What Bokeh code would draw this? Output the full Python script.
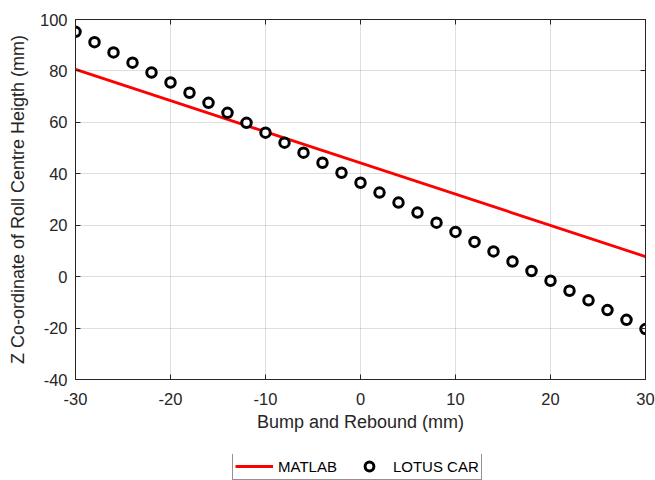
from bokeh.plotting import figure
from bokeh.layouts import column
from bokeh.models import LinearAxis, Legend, LegendItem, Range1d, FixedTicker
from bokeh.embed import file_html
from bokeh.resources import INLINE

# Data
lotus_x = [-30, -28, -26, -24, -22, -20, -18, -16, -14, -12, -10, -8, -6, -4, -2, 0,
           2, 4, 6, 8, 10, 12, 14, 16, 18, 20, 22, 24, 26, 28, 30]
lotus_y = [95.2, 91.2, 87.2, 83.2, 79.4, 75.5, 71.5, 67.6, 63.7, 59.8, 56.0, 52.1,
           48.2, 44.3, 40.4, 36.5, 32.7, 28.8, 24.9, 21.0, 17.4, 13.5, 9.8, 5.9,
           2.2, -1.6, -5.5, -9.2, -13.0, -16.8, -20.4]
matlab_x = [-30, 30]
matlab_y = [80.6, 7.8]
x_ticks = [-30, -20, -10, 0, 10, 20, 30]
y_ticks = [-40, -20, 0, 20, 40, 60, 80, 100]
series_names = ["MATLAB", "LOTUS CAR"]

FONT = "Liberation Sans"
AX = "#262626"
RED = "#ff0000"
NAN = float("nan")

p = figure(width=655, height=454, output_backend="svg", toolbar_location=None,
           x_range=Range1d(-30, 30), y_range=Range1d(-40, 100),
           min_border_left=75, min_border_right=10, min_border_top=19, min_border_bottom=75)

p.outline_line_color = AX
p.outline_line_width = 1

ln = p.line(matlab_x, matlab_y, line_color=RED, line_width=2.8)
sc = p.scatter(lotus_x, lotus_y, size=9.5, line_color="black", line_width=3,
               fill_color="white", marker="circle")

for ax in (p.xaxis[0], p.yaxis[0]):
    ax.major_tick_in = 5
    ax.major_tick_out = 0
    ax.minor_tick_in = 0
    ax.minor_tick_out = 0
    ax.axis_line_color = AX
    ax.major_tick_line_color = AX
    ax.major_label_text_font = FONT
    ax.major_label_text_font_size = "16.5px"
    ax.major_label_text_color = AX
    ax.axis_label_text_font = FONT
    ax.axis_label_text_font_size = "18px"
    ax.axis_label_text_font_style = "normal"
    ax.axis_label_text_color = AX

p.xaxis.ticker = FixedTicker(ticks=x_ticks)
p.yaxis.ticker = FixedTicker(ticks=y_ticks)
p.xaxis.major_label_overrides = {t: str(t) for t in x_ticks}
p.yaxis.major_label_overrides = {t: str(t) for t in y_ticks}
p.xaxis.axis_label = "Bump and Rebound (mm)"
p.yaxis.axis_label = "Z Co-ordinate of Roll Centre Heigth (mm)"
p.xaxis.major_label_standoff = 13
p.yaxis.major_label_standoff = 8
p.xaxis.axis_label_standoff = 4
p.yaxis.axis_label_standoff = 9

p.xgrid.ticker = FixedTicker(ticks=x_ticks)
p.ygrid.ticker = FixedTicker(ticks=y_ticks)
p.xgrid.grid_line_color = AX
p.ygrid.grid_line_color = AX
p.xgrid.grid_line_alpha = 0.15
p.ygrid.grid_line_alpha = 0.15

top = LinearAxis(ticker=FixedTicker(ticks=x_ticks), major_label_text_font_size="1px",
                 major_label_text_color=None, major_tick_in=5, major_tick_out=0,
                 minor_tick_in=0, minor_tick_out=0, axis_line_color=AX,
                 major_tick_line_color=AX, major_label_standoff=0)
right = LinearAxis(ticker=FixedTicker(ticks=y_ticks), major_label_text_font_size="1px",
                   major_label_text_color=None, major_tick_in=5, major_tick_out=0,
                   minor_tick_in=0, minor_tick_out=0, axis_line_color=AX,
                   major_tick_line_color=AX, major_label_standoff=0)
p.add_layout(top, "above")
p.add_layout(right, "right")

# Legend strip below the main plot (proxy renderers hold no visible data)
lg = figure(width=655, height=26, output_backend="svg", toolbar_location=None,
            x_axis_type=None, y_axis_type=None, x_range=Range1d(0, 1), y_range=Range1d(0, 1),
            min_border_left=0, min_border_right=0, min_border_top=0, min_border_bottom=0)
lg.outline_line_color = None
lg.grid.visible = False
d_ln = lg.line([NAN], [NAN], line_color=RED, line_width=2.8)
d_sc = lg.scatter([NAN], [NAN], line_color="black", line_width=3, fill_color="white",
                  marker="circle")

legend = Legend(items=[LegendItem(label=series_names[0], renderers=[d_ln]),
                       LegendItem(label=series_names[1], renderers=[d_sc])],
                orientation="horizontal", location=(157, 0),
                label_text_font=FONT, label_text_font_size="15px", label_text_color="black",
                border_line_color="#262626", border_line_width=1,
                glyph_width=38, glyph_height=22, label_standoff=5, spacing=13,
                padding=2, margin=0, background_fill_color="white")
lg.add_layout(legend, "center")

layout = column(p, lg, spacing=0)
open("out.html", "w").write(file_html(layout, INLINE))
